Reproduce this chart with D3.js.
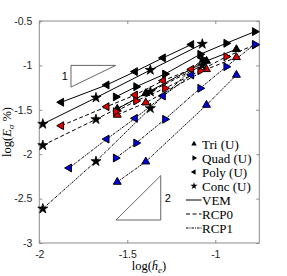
<!DOCTYPE html>
<html><head><meta charset="utf-8">
<script src="https://cdn.jsdelivr.net/npm/d3@7"></script>
<style>body{margin:0;background:#fff}svg{display:block}</style>
</head><body>
<script>
// ---- data (log10 values) ----
const triX  = [-1.557, -1.395, -1.05, -0.88];
const quadX = [-1.566, -1.45, -1.286, -1.086, -0.938, -0.776];
const polyX = [-1.875, -1.617, -1.456, -1.297, -1.136];
const polyX1 = [-1.83, -1.617, -1.456, -1.297, -1.136];
const concX = [-1.98, -1.678, -1.369, -1.074];

const triVEM  = [-1.49, -1.314, -0.95, -0.819];
const quadVEM = [-1.355, -1.24, -1.097, -0.875, -0.751, -0.62];
const polyVEM = [-1.415, -1.22, -1.07, -0.915, -0.765];
const concVEM = [-1.66, -1.364, -1.052, -0.759];

const triRCP0  = [-1.558, -1.42, -1.044, -0.909];
const quadRCP0 = [-1.52, -1.40, -1.258, -1.06, -0.902, -0.77];
const polyRCP0 = [-1.679, -1.465, -1.333, -1.172, -1.044];
const concRCP0 = [-1.90, -1.607, -1.296, -1.0];

const triRCP1  = [-2.313, -2.084, -1.446, -1.108];
const quadRCP1 = [-2.043, -1.874, -1.607, -1.258, -1.015, -0.763];
const polyRCP1 = [-2.155, -1.83, -1.596, -1.345, -1.108];
const concRCP1 = [-2.614, -2.08, -1.483, -0.93];

const xTicks = [-2, -1.5, -1];
const yTicks = [-3, -2.5, -2, -1.5, -1, -0.5];
const xTickLabels = ["-2", "-1.5", "-1"];
const yTickLabels = ["-3", "-2.5", "-2", "-1.5", "-1", "-0.5"];
const meshNames = ["Tri (U)", "Quad (U)", "Poly (U)", "Conc (U)"];
const methodNames = ["VEM", "RCP0", "RCP1"];
// slope triangles (data coords)
const tri1 = [[-1.82, -1.0], [-1.566, -1.0], [-1.82, -1.244]];
const tri2 = [[-1.564, -2.741], [-1.31, -2.741], [-1.31, -2.241]];

// ---- build ----
const W = 287, H = 276;
const x = d3.scaleLinear([-2, -0.75], [39.3, 259.3]);
const y = d3.scaleLinear([-3, -0.5], [243, 21]);

const svg = d3.select("body").append("svg").attr("width", W).attr("height", H);

const methodStyle = {
  VEM:  {dash: null, fill: "#000"},
  RCP0: {dash: "4,2.5", fill: "#e00000"},
  RCP1: {dash: "2.5,1,1,1", fill: "#0000e0"}
};
const meshShape = {
  "Tri (U)":  {sym: d3.symbolTriangle, rot: 0, size: 27},
  "Quad (U)": {sym: d3.symbolTriangle, rot: 90, size: 27},
  "Poly (U)": {sym: d3.symbolTriangle, rot: -90, size: 27},
  "Conc (U)": {sym: d3.symbolStar, rot: 0, size: 32}
};

const series = [
  {mesh: "Tri (U)", method: "VEM", xs: triX, ys: triVEM},
  {mesh: "Quad (U)", method: "VEM", xs: quadX, ys: quadVEM},
  {mesh: "Poly (U)", method: "VEM", xs: polyX, ys: polyVEM},
  {mesh: "Conc (U)", method: "VEM", xs: concX, ys: concVEM},
  {mesh: "Tri (U)", method: "RCP0", xs: triX, ys: triRCP0},
  {mesh: "Quad (U)", method: "RCP0", xs: quadX, ys: quadRCP0},
  {mesh: "Poly (U)", method: "RCP0", xs: polyX, ys: polyRCP0},
  {mesh: "Conc (U)", method: "RCP0", xs: concX, ys: concRCP0},
  {mesh: "Tri (U)", method: "RCP1", xs: triX, ys: triRCP1},
  {mesh: "Quad (U)", method: "RCP1", xs: quadX, ys: quadRCP1},
  {mesh: "Poly (U)", method: "RCP1", xs: polyX1, ys: polyRCP1},
  {mesh: "Conc (U)", method: "RCP1", xs: concX, ys: concRCP1}
];

// axes ticks (inward), box
const axisCol = "#8c8c8c";
const gx = svg.append("g").attr("transform", "translate(0,243)")
  .call(d3.axisBottom(x).tickValues(xTicks).tickSizeInner(-3).tickSizeOuter(0).tickPadding(8)
    .tickFormat((d, i) => xTickLabels[i]));
const gxt = svg.append("g").attr("transform", "translate(0,21)")
  .call(d3.axisTop(x).tickValues(xTicks).tickSizeInner(-3).tickSizeOuter(0).tickFormat(""));
const gy = svg.append("g").attr("transform", "translate(39.3,0)")
  .call(d3.axisLeft(y).tickValues(yTicks).tickSizeInner(-3).tickSizeOuter(0).tickPadding(7)
    .tickFormat((d, i) => yTickLabels[i]));
const gyr = svg.append("g").attr("transform", "translate(259.3,0)")
  .call(d3.axisRight(y).tickValues(yTicks).tickSizeInner(-3).tickSizeOuter(0).tickFormat(""));
[gx, gxt, gy, gyr].forEach(g => {
  g.select(".domain").remove();
  g.selectAll(".tick line").attr("stroke", axisCol);
  g.selectAll("text").attr("fill", "#262626").style("font-family", "Liberation Sans, Arial, sans-serif").style("font-size", "10.5px");
});
svg.append("rect").attr("x", 39.3).attr("y", 21).attr("width", 220).attr("height", 222)
  .attr("fill", "none").attr("stroke", axisCol).attr("stroke-width", 1);

// slope triangles
const tline = d3.line().x(d => x(d[0])).y(d => y(d[1]));
[tri1, tri2].forEach(t => {
  svg.append("path").attr("d", tline(t) + "Z").attr("fill", "none").attr("stroke", "#555").attr("stroke-width", 0.9);
});
svg.append("text").attr("x", x(-1.82) - 3).attr("y", y(-1.122) + 4).attr("text-anchor", "end")
  .style("font-family", "Liberation Sans, Arial, sans-serif").style("font-size", "11px").text("1");
svg.append("text").attr("x", x(-1.31) + 4).attr("y", y(-2.491) + 4)
  .style("font-family", "Liberation Sans, Arial, sans-serif").style("font-size", "11px").text("2");

// lines
const line = d3.line().x(d => x(d[0])).y(d => y(d[1]));
series.forEach(s => {
  const pts = s.xs.map((v, i) => [v, s.ys[i]]);
  svg.append("path").attr("d", line(pts)).attr("fill", "none").attr("stroke", "#000")
    .attr("stroke-width", 1).attr("stroke-dasharray", methodStyle[s.method].dash);
});
// markers
series.forEach(s => {
  const sh = meshShape[s.mesh];
  const sym = d3.symbol().type(sh.sym).size(sh.size);
  s.xs.forEach((v, i) => {
    const isStar = s.mesh === "Conc (U)";
    svg.append("path").attr("d", sym())
      .attr("transform", `translate(${x(v)},${y(s.ys[i])}) rotate(${sh.rot})`)
      .attr("fill", isStar ? "#000" : methodStyle[s.method].fill)
      .attr("stroke", "#000").attr("stroke-width", isStar ? 0.7 : 1).attr("stroke-linejoin", "miter");
  });
});

// legend
const lg = svg.append("g");
const rowY = [144, 158, 172, 186, 200, 214, 228];
const serif = "Liberation Serif, Times New Roman, serif";
meshNames.forEach((m, i) => {
  const sh = meshShape[m];
  lg.append("path").attr("d", d3.symbol().type(sh.sym).size(sh.sym === d3.symbolStar ? 16 : 13)())
    .attr("transform", `translate(194,${rowY[i]}) rotate(${sh.rot})`).attr("fill", "#000");
  lg.append("text").attr("x", 202).attr("y", rowY[i] + 4.5).style("font-family", serif)
    .style("font-size", "13px").text(m);
});
methodNames.forEach((m, j) => {
  const ry = rowY[4 + j];
  lg.append("line").attr("x1", 186).attr("x2", 201.5).attr("y1", ry).attr("y2", ry)
    .attr("stroke", "#000").attr("stroke-width", 1).attr("stroke-dasharray", methodStyle[m].dash);
  lg.append("text").attr("x", 202).attr("y", ry + 4.5).style("font-family", serif)
    .style("font-size", "13px").text(m);
});

// axis labels
const xl = svg.append("text").attr("x", 149).attr("y", 270).attr("text-anchor", "middle")
  .style("font-family", serif).style("font-size", "12.5px");
xl.append("tspan").text("log(");
xl.append("tspan").style("font-style", "italic").text("h\u0304");
xl.append("tspan").attr("dy", 3).style("font-size", "9px").style("font-style", "italic").text("e");
xl.append("tspan").attr("dy", -3).text(")");

const yl = svg.append("text").attr("transform", "translate(11,132) rotate(-90)").attr("text-anchor", "middle")
  .style("font-family", serif).style("font-size", "12.5px");
yl.append("tspan").text("log(");
yl.append("tspan").style("font-style", "italic").text("E");
yl.append("tspan").attr("dy", 3).style("font-size", "9px").style("font-style", "italic").text("\u03c3");
yl.append("tspan").attr("dy", -3).text(" %)");
</script>
</body></html>
